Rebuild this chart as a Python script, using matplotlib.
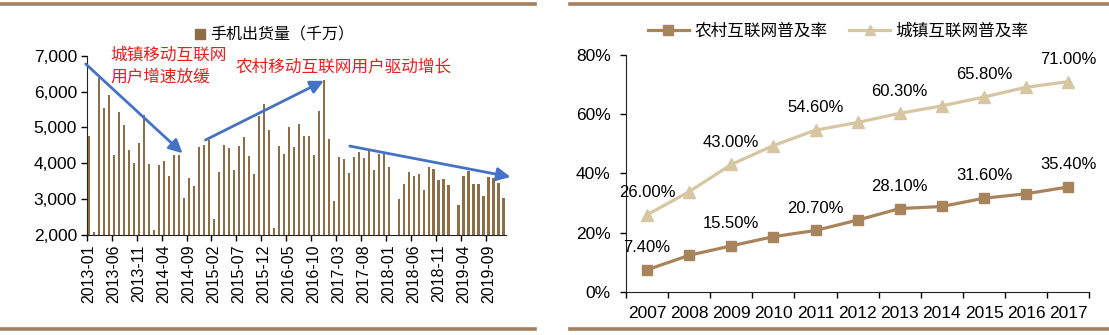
import matplotlib
matplotlib.use("Agg")
import matplotlib.pyplot as plt
from matplotlib.lines import Line2D
from matplotlib.ticker import FuncFormatter
import pandas as pd

plt.rcParams['font.family'] = ['Liberation Sans', 'Noto Sans CJK SC', 'DejaVu Sans']

# ---------------- data ----------------
months = [p.strftime('%Y-%m') for p in pd.period_range('2013-01', '2019-12', freq='M')]
shipments = [4760, 2075, 6390, 5540, 5900, 4240, 5420, 5075, 4370, 4000,
             4565, 5335, 3970, 2130, 3940, 4065, 3645, 4230, 4230, 3020,
             3590, 3365, 4465, 4510, 4660, 2445, 3745, 4510, 4435, 3810,
             4480, 4730, 4210, 3710, 5310, 5650, 4935, 2205, 4470, 4250,
             5010, 4455, 5085, 4760, 4770, 4230, 5455, 6320, 4675, 2950,
             4185, 4120, 3740, 4175, 4305, 4140, 4370, 3810, 4270, 4270,
             3905, 1440, 3015, 3415, 3765, 3655, 3690, 3245, 3885, 3830,
             3525, 3560, 3395, 1800, 2835, 3645, 3785, 3415, 3415, 3090,
             3615, 3600, 3460, 3030]
bar_legend = '手机出货量（千万）'

years = ['2007', '2008', '2009', '2010', '2011', '2012', '2013', '2014', '2015', '2016', '2017']
rural = [7.4, 12.3, 15.5, 18.6, 20.7, 24.2, 28.1, 28.8, 31.6, 33.1, 35.4]
urban = [26.0, 33.8, 43.0, 49.4, 54.6, 57.2, 60.3, 62.8, 65.8, 69.1, 71.0]
rural_name = '农村互联网普及率'
urban_name = '城镇互联网普及率'

note1 = '城镇移动互联网\n用户增速放缓'
note2 = '农村移动互联网用户驱动增长'

# ---------------- style ----------------
BAR_C = '#8D6E47'
RURAL_C = '#A8845C'
URBAN_C = '#D6C6A2'
BORDER_C = '#A3805F'
ARROW_C = '#4472C4'
NOTE_C = '#EE1C1C'

W, H = 1109, 335
fig = plt.figure(figsize=(W / 100, H / 100), dpi=100)

def fx(px):
    return px / W

def fy(py):
    return 1 - py / H

# ---------------- left chart ----------------
ax1 = fig.add_axes([fx(86.7), fy(235), fx(506 - 86.7), (235 - 55.7) / H])
x = list(range(len(shipments)))
ax1.bar(x, shipments, width=0.45, color=BAR_C, zorder=2)
ax1.set_xlim(-0.5, len(shipments) - 0.5)
ax1.set_ylim(2000, 7000)
ax1.set_yticks(range(2000, 7001, 1000))
ax1.yaxis.set_major_formatter(FuncFormatter(lambda v, p: f'{int(v):,}'))
ax1.set_xticks([i - 0.5 for i in range(0, len(shipments), 5)])
ax1.set_xticklabels([])
ax1.set_xticks(list(range(0, len(shipments), 5)), minor=True)
ax1.set_xticklabels([months[i] for i in range(0, len(shipments), 5)], minor=True,
                    rotation=90, fontsize=11.5)
ax1.tick_params(axis='x', which='minor', length=0, pad=7)
ax1.tick_params(axis='x', which='major', direction='out', length=4, width=1)
ax1.tick_params(axis='y', direction='out', length=4, width=1, labelsize=12.5, pad=3)
for s in ['top', 'right']:
    ax1.spines[s].set_visible(False)
for s in ['left', 'bottom']:
    ax1.spines[s].set_color('#222222')

ax1.legend(handles=[Line2D([], [], marker='s', color=BAR_C, linestyle='None', markersize=7)],
           labels=[bar_legend], loc='center', bbox_to_anchor=(fx(274), fy(35)),
           bbox_transform=fig.transFigure, frameon=False, fontsize=11.5,
           handlelength=0.7, handletextpad=0.3, borderpad=0)

fig.text(fx(110), fy(66), note1, color=NOTE_C, fontsize=12, va='center', ha='left',
         linespacing=1.45)
fig.text(fx(235), fy(66), note2, color=NOTE_C, fontsize=12, va='center', ha='left')

arrow_kw = dict(arrowstyle='-|>', color=ARROW_C, lw=2, mutation_scale=20, shrinkA=0, shrinkB=0)
ax1.annotate('', xy=(18.7, 4280), xytext=(-0.7, 6770), arrowprops=arrow_kw, annotation_clip=False)
ax1.annotate('', xy=(47.0, 6300), xytext=(23.3, 4650), arrowprops=arrow_kw, annotation_clip=False)
ax1.annotate('', xy=(84.4, 3620), xytext=(52.2, 4480), arrowprops=arrow_kw, annotation_clip=False)

# ---------------- right chart ----------------
ax2 = fig.add_axes([fx(626), fy(291.7), fx(1089.3 - 626), (291.7 - 55) / H])
xi = list(range(len(years)))
ax2.plot(xi, rural, color=RURAL_C, lw=2.3, marker='s', markersize=7.5, label=rural_name, zorder=3)
ax2.plot(xi, urban, color=URBAN_C, lw=2.3, marker='^', markersize=8, label=urban_name, zorder=3)
for i in range(0, len(years), 2):
    ax2.annotate(f'{rural[i]:.2f}%', (i, rural[i]), xytext=(0, 16), textcoords='offset points',
                 ha='center', va='center', fontsize=12)
    ax2.annotate(f'{urban[i]:.2f}%', (i, urban[i]), xytext=(0, 16), textcoords='offset points',
                 ha='center', va='center', fontsize=12)
ax2.set_xlim(-0.5, len(years) - 0.5)
ax2.set_ylim(0, 80)
ax2.set_yticks(range(0, 81, 20))
ax2.yaxis.set_major_formatter(FuncFormatter(lambda v, p: f'{int(v)}%'))
ax2.set_xticks([i - 0.5 for i in range(len(years) + 1)])
ax2.set_xticklabels([])
ax2.set_xticks(xi, minor=True)
ax2.set_xticklabels(years, minor=True, fontsize=12.5)
ax2.tick_params(axis='x', which='minor', length=0, pad=10)
ax2.tick_params(axis='x', which='major', direction='out', length=4, width=1)
ax2.tick_params(axis='y', direction='out', length=4, width=1, labelsize=12.5, pad=7)
for s in ['top', 'right']:
    ax2.spines[s].set_visible(False)
for s in ['left', 'bottom']:
    ax2.spines[s].set_color('#222222')

ax2.legend(loc='center', bbox_to_anchor=(fx(838), fy(31)), bbox_transform=fig.transFigure,
           ncol=2, frameon=False, fontsize=12, handlelength=2.5, handletextpad=0.3,
           columnspacing=1.3, borderpad=0, markerscale=0.9)

# ---------------- border lines ----------------
for (x0, x1) in [(0, 535), (570, 1109)]:
    for yy in [4, 328.5]:
        fig.add_artist(Line2D([fx(x0), fx(x1)], [fy(yy), fy(yy)], transform=fig.transFigure,
                              color=BORDER_C, lw=2.6))

fig.savefig('out.png', dpi=100)
